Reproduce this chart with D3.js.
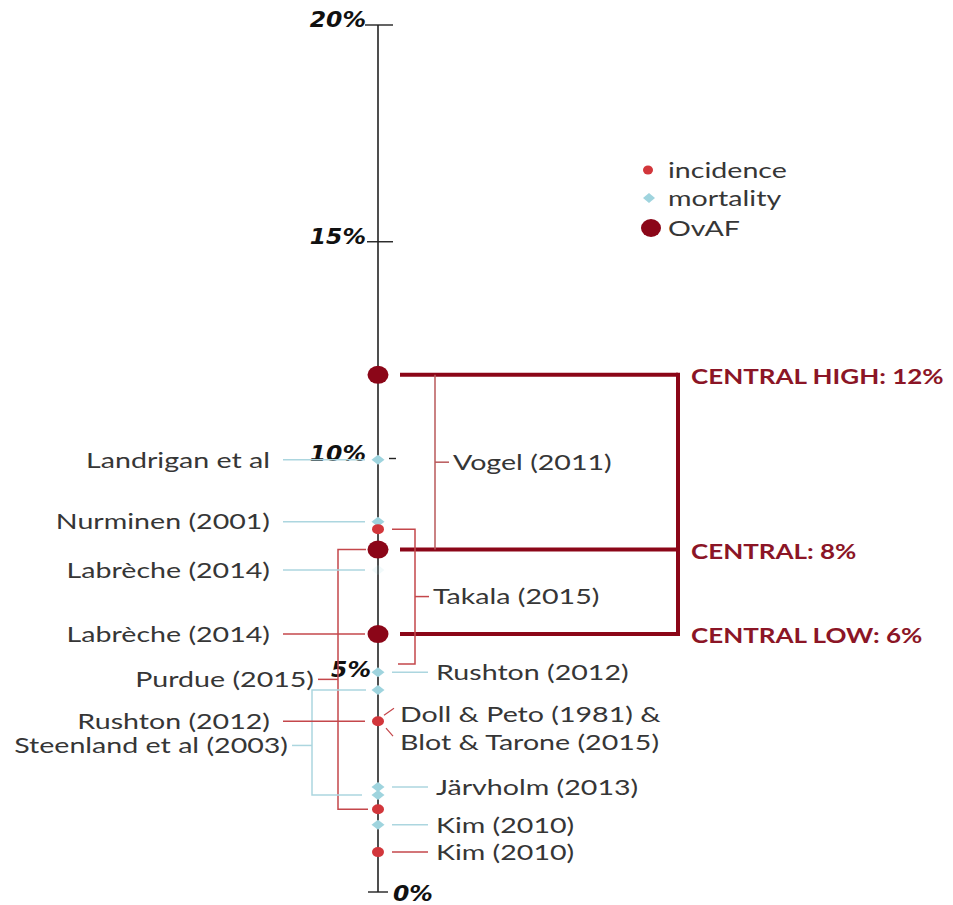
<!DOCTYPE html>
<html>
<head>
<meta charset="utf-8">
<script src="https://cdn.jsdelivr.net/npm/d3@7"></script>
<style>
  body { margin: 0; background: #fff; }
  svg text { font-family: Lato, 'Open Sans', sans-serif; fill: #363636; }
</style>
</head>
<body>
<div id="wrapper"></div>
<script>
// axis
const tickValues = [0, 5, 10, 15, 20]
const tickLabels = ['0%', '5%', '10%', '15%', '20%']

// single studies (percent)
const mortalityStudies = ['Landrigan et al', 'Nurminen (2001)', 'Labrèche (2014)', 'Rushton (2012)', '', 'Järvholm (2013)', '', 'Kim (2010)']
const mortalityValues = [9.97, 8.54, 7.43, 5.07, 4.66, 2.42, 2.24, 1.55]

const incidenceStudies = ['', 'Labrèche (2014)', 'Rushton (2012)', '', 'Kim (2010)']
const incidenceValues = [8.37, 5.95, 3.94, 1.91, 0.92]

// central estimates
const ovafLabels = ['CENTRAL HIGH: 12%', 'CENTRAL: 8%', 'CENTRAL LOW: 6%']
const ovafValues = [11.93, 7.9, 5.95]

// studies giving a range
const rangeStudies = ['Vogel (2011)', 'Takala (2015)', 'Purdue (2015)', 'Steenland et al (2003)']
const rangeLow = [7.9, 5.26, 1.91, 2.24]
const rangeHigh = [11.93, 8.37, 7.9, 4.66]

const noteLines = ['Doll & Peto (1981) &', 'Blot & Tarone (2015)']
const legendLabels = ['incidence', 'mortality', 'OvAF']

const width = 953
const height = 905
const axisX = 378
const stretch = 1.3

const colors = {
    axis: '#222',
    mort: '#9fd4de',
    mortLine: '#acd6df',
    inc: '#d2363b',
    incLine: '#c4474b',
    ovaf: '#8b0618',
    bracket: '#b9585a'
}

const svg = d3.select('#wrapper').append('svg')
    .attr('width', width)
    .attr('height', height)

const yScale = d3.scaleLinear()
    .domain([0, 20])
    .range([892, 25])

// text is a bit wide in the original, so stretch it horizontally
function label(g, x, y, txt, anchor, size) {
    return g.append('text')
        .attr('transform', `translate(${x},${y}) scale(${stretch},1)`)
        .attr('text-anchor', anchor)
        .attr('dy', '0.35em')
        .style('font-size', (size || 22) + 'px')
        .text(txt)
}

function diamond(g, x, y, w, h, fill) {
    return g.append('path')
        .attr('d', `M${x - w / 2},${y} L${x},${y - h / 2} L${x + w / 2},${y} L${x},${y + h / 2} Z`)
        .attr('fill', fill)
}

// ---- axis
const axis = svg.append('g')
axis.append('line')
    .attr('x1', axisX).attr('x2', axisX)
    .attr('y1', yScale(0)).attr('y2', yScale(20))
    .attr('stroke', colors.axis)
    .attr('stroke-width', 1.6)

const tickSpan = { 20: [-13, 15], 15: [-11, 15], 10: [11, 18], 0: [-10, 10] }
tickValues.forEach((v, i) => {
    const span = tickSpan[v]
    if (span) {
        axis.append('line')
            .attr('x1', axisX + span[0]).attr('x2', axisX + span[1])
            .attr('y1', yScale(v)).attr('y2', yScale(v))
            .attr('stroke', colors.axis)
            .attr('stroke-width', 1.4)
    }
    const x = v === 0 ? axisX + 15 : axisX - (v === 5 ? 7 : 12)
    const y = v === 0 ? yScale(v) + 9 : yScale(v) + 2
    axis.append('text')
        .text(tickLabels[i])
        .attr('transform', `translate(${x},${y}) scale(1.12,1)`)
        .attr('text-anchor', v === 0 ? 'start' : 'end')
        .style('font-family', "'DejaVu Sans', sans-serif")
        .style('font-weight', 'bold')
        .style('font-style', 'italic')
        .style('font-size', '21px')
        .style('fill', '#111')
})

// ---- central estimate brackets
const central = svg.append('g')
const boxRight = 678
ovafValues.forEach((v, i) => {
    central.append('line')
        .attr('x1', 400).attr('x2', boxRight)
        .attr('y1', yScale(v)).attr('y2', yScale(v))
        .attr('stroke', colors.ovaf)
        .attr('stroke-width', 4)
    label(central, 691, yScale(v) + 2, ovafLabels[i], 'start', 20)
        .style('font-weight', 'bold')
        .style('fill', '#8b1526')
})
central.append('line')
    .attr('x1', boxRight).attr('x2', boxRight)
    .attr('y1', yScale(d3.max(ovafValues)) - 2).attr('y2', yScale(d3.min(ovafValues)) + 2)
    .attr('stroke', colors.ovaf)
    .attr('stroke-width', 4)

// ---- range brackets
const rangeLayout = [
    { x: 435, side: 'right', top: null, bottom: null, color: colors.bracket, dy: 0 },
    { x: 415, side: 'right', top: 392, bottom: 398, color: colors.incLine, dy: 0 },
    { x: 338, side: 'left', top: 366, bottom: 368, color: colors.incLine, dy: 0 },
    { x: 312, side: 'left', top: 366, bottom: 362, color: colors.mortLine, dy: 3 }
]
const ranges = svg.append('g')
rangeStudies.forEach((name, i) => {
    const L = rangeLayout[i]
    const y1 = yScale(rangeHigh[i])
    const y2 = yScale(rangeLow[i])
    const ym = (y1 + y2) / 2 + L.dy
    let d = `M${L.x},${y1} L${L.x},${y2}`
    if (L.top) d = `M${L.top},${y1} L${L.x},${y1} L${L.x},${y2} L${L.bottom},${y2}`
    ranges.append('path')
        .attr('d', d)
        .attr('fill', 'none')
        .attr('stroke', L.color)
        .attr('stroke-width', 1.5)
    const dir = L.side === 'right' ? 1 : -1
    const tick = L.side === 'right' ? 14 : 20
    ranges.append('line')
        .attr('x1', L.x).attr('x2', L.x + dir * tick)
        .attr('y1', ym).attr('y2', ym)
        .attr('stroke', L.color)
        .attr('stroke-width', 1.5)
    label(ranges, L.x + dir * (tick + 4), ym, name, L.side === 'right' ? 'start' : 'end')
})

// ---- leader lines for single studies
const leaders = svg.append('g')
function leader(v, name, side, color) {
    const y = yScale(v)
    if (side === 'left') {
        leaders.append('line')
            .attr('x1', 283).attr('x2', 365)
            .attr('y1', y).attr('y2', y)
            .attr('stroke', color).attr('stroke-width', 1.5)
        label(leaders, 270, y, name, 'end')
    } else {
        leaders.append('line')
            .attr('x1', 392).attr('x2', 428)
            .attr('y1', y).attr('y2', y)
            .attr('stroke', color).attr('stroke-width', 1.5)
        label(leaders, 436, y, name, 'start')
    }
}
const mortSide = ['left', 'left', 'left', 'right', null, 'right', null, 'right']
mortalityStudies.forEach((name, i) => {
    if (mortSide[i]) leader(mortalityValues[i], name, mortSide[i], colors.mortLine)
})
const incSide = [null, 'left', 'left', null, 'right']
incidenceStudies.forEach((name, i) => {
    if (incSide[i]) leader(incidenceValues[i], name, incSide[i], colors.incLine)
})

// Doll & Peto / Blot & Tarone note on the Rushton incidence point
const noteY = yScale(incidenceValues[2])
leaders.append('path')
    .attr('d', `M${axisX + 6},${noteY - 6} L${axisX + 16},${noteY - 13} M${axisX + 8},${noteY + 7} L${axisX + 15},${noteY + 15}`)
    .attr('stroke', colors.incLine).attr('stroke-width', 1.2).attr('fill', 'none')
noteLines.forEach((t, i) => {
    label(leaders, 400, noteY - 7 + i * 28, t, 'start')
})

// ---- markers
const marks = svg.append('g')
mortalityValues.forEach((v, i) => {
    const m = diamond(marks, axisX, yScale(v), 13, 10, colors.mort)
    // the Labrèche mortality point barely shows in the original
    if (i === 2) m.attr('opacity', 0.15)
})

marks.selectAll('.inc')
    .data(incidenceValues)
    .join('ellipse')
    .attr('class', 'inc')
    .attr('cx', axisX)
    .attr('cy', d => yScale(d))
    .attr('rx', 6)
    .attr('ry', 5)
    .attr('fill', colors.inc)

marks.selectAll('.ovaf')
    .data(ovafValues)
    .join('ellipse')
    .attr('class', 'ovaf')
    .attr('cx', axisX)
    .attr('cy', d => yScale(d))
    .attr('rx', 10.5)
    .attr('ry', 9)
    .attr('fill', colors.ovaf)

// ---- legend
const legend = svg.append('g')
const legendY = [170, 198, 228]
legend.append('ellipse')
    .attr('cx', 648).attr('cy', legendY[0]).attr('rx', 5).attr('ry', 4.5)
    .attr('fill', colors.inc)
diamond(legend, 649, legendY[1], 12, 10, colors.mort)
legend.append('ellipse')
    .attr('cx', 651).attr('cy', legendY[2]).attr('rx', 10).attr('ry', 9)
    .attr('fill', colors.ovaf)
legendLabels.forEach((t, i) => {
    label(legend, 668, legendY[i], t, 'start')
})
</script>
</body>
</html>
